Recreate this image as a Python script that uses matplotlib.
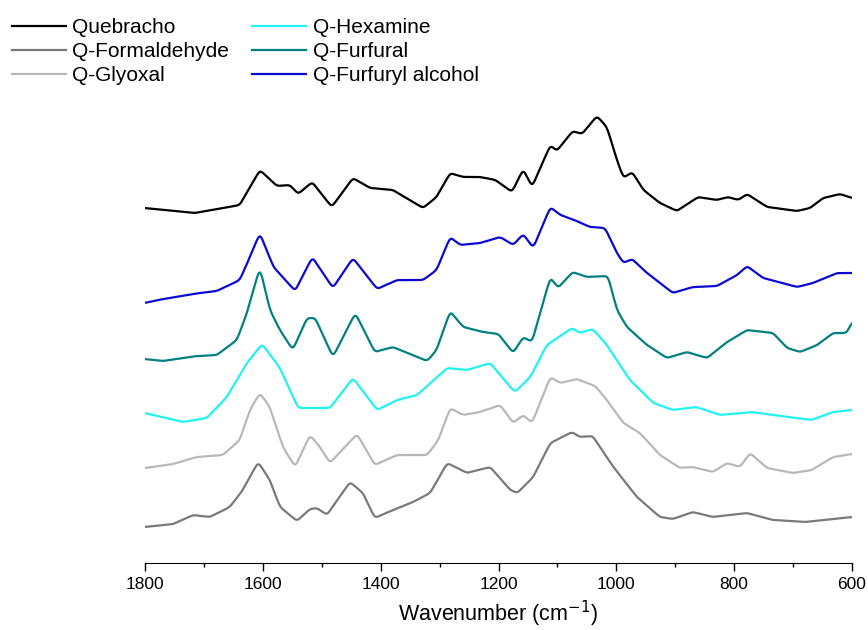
import numpy as np
import matplotlib.pyplot as plt

plt.rcParams['font.family'] = ['Liberation Sans', 'DejaVu Sans']

# stacked FTIR spectra (offset a.u.)
wn_queb = [1800, 1715, 1639, 1605, 1576, 1554, 1540, 1516, 1483, 1447, 1418, 1379, 1328, 1305,
           1282, 1260, 1231, 1205, 1177, 1158, 1143, 1112, 1101, 1074, 1058, 1033, 1016, 999,
           988, 973, 954, 926, 897, 861, 829, 810, 793, 778, 744, 693, 671, 649, 620, 600]
y_queb = [355, 350, 358, 393, 377, 378, 369, 381, 356, 385, 375, 373, 355, 366,
          390, 386, 386, 383, 371, 394, 376, 418, 412, 432, 429, 447, 436, 403,
          385, 391, 373, 360, 352, 366, 363, 366, 363, 369, 356, 352, 355, 365, 369, 365]

wn_fa = [1800, 1769, 1707, 1678, 1639, 1622, 1605, 1582, 1545, 1516, 1481, 1447, 1406, 1372,
         1328, 1305, 1282, 1265, 1231, 1197, 1175, 1158, 1141, 1112, 1095, 1067, 1045, 1019,
         999, 988, 973, 948, 904, 870, 829, 795, 778, 751, 693, 666, 625, 600]
y_fa = [260, 264, 270, 272, 283, 306, 330, 296, 272, 306, 275, 305, 274, 283,
        283, 293, 326, 318, 320, 326, 318, 329, 315, 356, 348, 342, 336, 335,
        310, 300, 304, 290, 270, 276, 277, 288, 297, 285, 276, 280, 290, 290]

wn_furf = [1800, 1769, 1712, 1678, 1644, 1627, 1605, 1588, 1571, 1549, 1525, 1511, 1481, 1443,
           1410, 1379, 1321, 1305, 1282, 1260, 1226, 1200, 1175, 1158, 1143, 1112, 1099, 1074,
           1050, 1014, 999, 982, 948, 914, 880, 846, 812, 778, 734, 710, 688, 659, 632, 609, 600]
y_furf = [204, 202, 207, 208, 223, 250, 296, 253, 233, 213, 245, 245, 206, 250,
          211, 216, 202, 213, 252, 236, 231, 229, 210, 226, 221, 286, 275, 291,
          286, 287, 253, 236, 218, 205, 211, 205, 221, 233, 230, 215, 211, 218, 230, 230, 241]

wn_hex = [1800, 1735, 1695, 1661, 1627, 1601, 1571, 1540, 1486, 1447, 1406, 1372, 1338, 1287,
          1253, 1214, 1180, 1172, 1146, 1118, 1075, 1062, 1040, 1016, 977, 937, 904, 864,
          824, 768, 722, 668, 632, 600]
y_hex = [150, 141, 145, 166, 200, 219, 195, 155, 155, 185, 153, 163, 168, 195,
         193, 200, 176, 171, 186, 218, 235, 230, 234, 218, 183, 160, 153, 156,
         148, 151, 147, 143, 151, 153]

wn_gly = [1800, 1752, 1712, 1668, 1639, 1622, 1605, 1588, 1566, 1545, 1520, 1503, 1486, 1440,
          1410, 1372, 1321, 1302, 1282, 1260, 1231, 1197, 1175, 1158, 1143, 1112, 1095, 1067,
          1036, 1016, 988, 960, 926, 892, 870, 836, 812, 790, 773, 744, 700, 668, 632, 600]
y_gly = [95, 99, 106, 108, 123, 153, 170, 156, 116, 96, 128, 116, 100, 129,
         98, 108, 108, 123, 155, 148, 151, 158, 140, 148, 140, 186, 180, 184,
         177, 163, 140, 130, 108, 95, 96, 91, 100, 96, 110, 95, 90, 93, 106, 109]

wn_form = [1800, 1752, 1718, 1690, 1656, 1634, 1608, 1588, 1571, 1542, 1520, 1508, 1491, 1452,
           1430, 1410, 1379, 1345, 1316, 1287, 1253, 1214, 1180, 1168, 1141, 1112, 1075, 1062,
           1040, 1005, 965, 926, 904, 870, 836, 778, 734, 677, 600]
y_form = [36, 39, 48, 46, 56, 73, 101, 83, 56, 42, 54, 55, 48, 81,
          70, 45, 53, 61, 70, 100, 90, 96, 73, 70, 86, 120, 131, 126,
          127, 96, 66, 46, 44, 51, 46, 50, 43, 41, 46]

labels = ['Quebracho', 'Q-Formaldehyde', 'Q-Glyoxal', 'Q-Hexamine', 'Q-Furfural', 'Q-Furfuryl alcohol']
colors = ['#000000', '#7a7a7a', '#b8b8b8', '#22f2f2', '#008080', '#0a0ad0']
series = [(wn_queb, y_queb), (wn_form, y_form), (wn_gly, y_gly),
          (wn_hex, y_hex), (wn_furf, y_furf), (wn_fa, y_fa)]

grid = np.arange(600, 1801, 1.0)
kern = np.exp(-0.5 * (np.arange(-10, 11) / 3.0) ** 2)
kern /= kern.sum()


def smooth(wn, y):
    wn = np.asarray(wn, float)[::-1]
    y = np.asarray(y, float)[::-1]
    yi = np.interp(grid, wn, y)
    pad = np.pad(yi, 10, mode='edge')
    return np.convolve(pad, kern, mode='valid')


fig = plt.figure(figsize=(8.68, 6.3), dpi=100)
ax = fig.add_axes([145 / 868, 1 - 563 / 630, 707 / 868, 463 / 630])

handles = []
for (wn, y), c, lab in zip(series, colors, labels):
    h, = ax.plot(grid, smooth(wn, y), color=c, lw=1.6, label=lab)
    handles.append(h)

ax.set_xlim(1800, 600)
ax.set_ylim(0, 463)
ax.set_xticks(np.arange(600, 1801, 200))
ax.set_xticks(np.arange(700, 1800, 200), minor=True)
ax.tick_params(axis='x', which='major', direction='out', length=6, width=1, labelsize=12.5, pad=4)
ax.tick_params(axis='x', which='minor', direction='out', length=3, width=1)
ax.set_yticks([])
for s in ['top', 'right', 'left']:
    ax.spines[s].set_visible(False)
ax.set_xlabel('Wavenumber (cm$^{-1}$)', fontsize=15.5, labelpad=5)

fig.legend(handles, labels, ncol=2, loc='upper left', bbox_to_anchor=(12 / 868, 1 - 18 / 630),
           frameon=False, fontsize=15, handlelength=2.6, handletextpad=0.3,
           columnspacing=1.1, labelspacing=0.25, borderpad=0, borderaxespad=0)

fig.savefig('out.png', dpi=100)
